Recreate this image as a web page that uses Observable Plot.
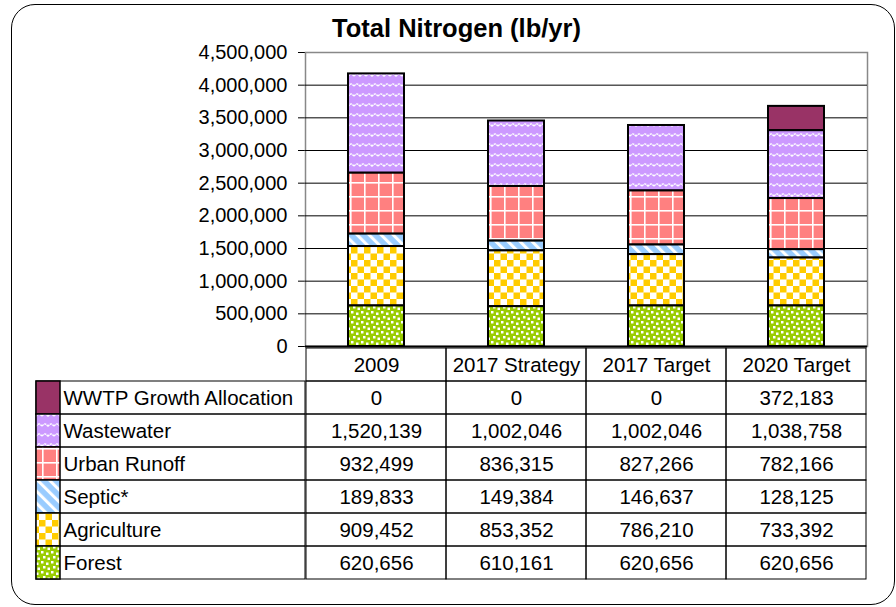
<!DOCTYPE html>
<html>
<head>
<meta charset="utf-8">
<script src="https://cdn.jsdelivr.net/npm/d3@7"></script>
<script src="https://cdn.jsdelivr.net/npm/@observablehq/plot@0.6"></script>
<style>
  html, body { margin: 0; padding: 0; background: #fff; }
  #wrap { position: relative; width: 896px; height: 607px; overflow: hidden; font-family: "Liberation Sans", Arial, sans-serif; }
  #box { position: absolute; left: 11px; top: 4px; width: 884px; height: 601px; box-sizing: border-box; border: 1.5px solid #000; border-radius: 24px; }
  #title { position: absolute; left: 0; width: 913px; top: 14px; line-height: 28px; text-align: center; font-weight: bold; font-size: 25.5px; color: #000; }
  .layer { position: absolute; left: 0; top: 0; }
</style>
</head>
<body>
<div id="wrap">
  <div id="box"></div>
  <svg id="defs" width="0" height="0" style="position:absolute">
    <defs>
      <pattern id="pat-forest" width="10" height="10" patternUnits="userSpaceOnUse">
        <rect width="10" height="10" fill="#99CC00"/>
        <rect x="1" y="1" width="2.5" height="2.5" fill="#fff"/>
        <rect x="6" y="2.5" width="2.5" height="2.5" fill="#fff"/>
        <rect x="3" y="6" width="2.5" height="2.5" fill="#fff"/>
        <rect x="7.5" y="7.5" width="2.5" height="2.5" fill="#fff"/>
      </pattern>
      <pattern id="pat-agriculture" width="13" height="13" patternUnits="userSpaceOnUse">
        <rect width="13" height="13" fill="#fff"/>
        <rect width="6.5" height="6.5" fill="#FFCC00"/>
        <rect x="6.5" y="6.5" width="6.5" height="6.5" fill="#FFCC00"/>
      </pattern>
      <pattern id="pat-septic" width="8.5" height="8.5" patternUnits="userSpaceOnUse" patternTransform="rotate(-45)">
        <rect width="8.5" height="8.5" fill="#99CCFF"/>
        <rect width="3" height="8.5" fill="#fff"/>
      </pattern>
      <pattern id="pat-urban" width="14" height="14" patternUnits="userSpaceOnUse">
        <rect width="14" height="14" fill="#FF8080"/>
        <rect x="0" y="0" width="1.6" height="14" fill="#fff"/>
        <rect x="0" y="0" width="14" height="1.6" fill="#fff"/>
      </pattern>
      <pattern id="pat-wastewater" width="12" height="10" patternUnits="userSpaceOnUse">
        <rect width="12" height="10" fill="#CC99FF"/>
        <path d="M0,6.5 Q3,1.5 6,6.5 Q9,1.5 12,6.5" fill="none" stroke="#fff" stroke-width="1.4" stroke-dasharray="2.2,0.6"/>
      </pattern>
    </defs>
  </svg>
  <div id="title">Total Nitrogen (lb/yr)</div>
</div>
<script>
const categories = ["2009", "2017 Strategy", "2017 Target", "2020 Target"];
const series = ["WWTP Growth Allocation", "Wastewater", "Urban Runoff", "Septic*", "Agriculture", "Forest"];
const wwtpGrowth = [0, 0, 0, 372183];
const wastewater = [1520139, 1002046, 1002046, 1038758];
const urbanRunoff = [932499, 836315, 827266, 782166];
const septic = [189833, 149384, 146637, 128125];
const agriculture = [909452, 853352, 786210, 733392];
const forest = [620656, 610161, 620656, 620656];
const yTicks = [0, 500000, 1000000, 1500000, 2000000, 2500000, 3000000, 3500000, 4000000, 4500000];
const seriesFills = ["#993366", "url(#pat-wastewater)", "url(#pat-urban)", "url(#pat-septic)", "url(#pat-agriculture)", "url(#pat-forest)"];

const seriesValues = [wwtpGrowth, wastewater, urbanRunoff, septic, agriculture, forest];
const rows = series.flatMap((s, i) => categories.map((c, j) => ({series: s, category: c, value: seriesValues[i][j]})));
const stackOrder = series.slice().reverse();
const headerKey = "header";
const fmt = d3.format(",");

const W = 896, H = 607;
const baseStyle = {fontFamily: "'Liberation Sans', Arial, sans-serif", background: "transparent", color: "#000"};

// Chart
const chart = Plot.plot({
  width: W, height: H,
  marginLeft: 305, marginRight: 29, marginTop: 52, marginBottom: H - 346,
  style: {...baseStyle, fontSize: "20px"},
  x: {domain: categories, paddingInner: 0.6, paddingOuter: 0.3, axis: null},
  y: {domain: [0, 4500000], ticks: yTicks, tickFormat: fmt, tickSize: 7, tickPadding: 11, label: null, line: true},
  color: {domain: series, range: seriesFills},
  marks: [
    Plot.frame({stroke: "#888", strokeWidth: 1.5}),
    Plot.ruleY(yTicks.filter(t => t > 0 && t < 4500000), {stroke: "#000", strokeWidth: 1}),
    Plot.barY(rows, {x: "category", y: "value", fill: "series", order: stackOrder, filter: d => d.value > 0, stroke: "#000", strokeWidth: 2}),
    Plot.ruleY([0], {stroke: "#000", strokeWidth: 2})
  ]
});
chart.classList.add("layer");
document.getElementById("wrap").appendChild(chart);

// Data table (header + values)
const table = Plot.plot({
  width: W, height: H,
  marginLeft: 305, marginRight: 29, marginTop: 346, marginBottom: H - 580,
  style: {...baseStyle, fontSize: "20.5px"},
  x: {domain: categories, padding: 0, axis: null},
  y: {domain: [headerKey, ...series], padding: 0, axis: null},
  marks: [
    Plot.cell(rows, {x: "category", y: "series", fill: "none", stroke: "#000", strokeWidth: 1}),
    Plot.cell(categories, {x: d => d, y: () => headerKey, fill: "none", stroke: "#000", strokeWidth: 1}),
    Plot.text(categories, {x: d => d, y: () => headerKey, text: d => d, fill: "#000"}),
    Plot.text(rows, {x: "category", y: "series", text: d => fmt(d.value), fill: "#000"})
  ]
});
table.classList.add("layer");
document.getElementById("wrap").appendChild(table);

// Legend column of the table
const legend = Plot.plot({
  width: W, height: H,
  marginLeft: 36, marginRight: W - 305, marginTop: 380, marginBottom: H - 580,
  style: {...baseStyle, fontSize: "20.5px"},
  y: {domain: series, padding: 0, axis: null},
  color: {domain: series, range: seriesFills},
  marks: [
    Plot.cell(series, {y: d => d, fill: "none", stroke: "#000", strokeWidth: 1}),
    Plot.cell(series, {y: d => d, fill: d => d, insetRight: 245, stroke: "#000", strokeWidth: 1.5}),
    Plot.text(series, {y: d => d, text: d => d, frameAnchor: "left", dx: 27, textAnchor: "start", fill: "#000"})
  ]
});
legend.classList.add("layer");
document.getElementById("wrap").appendChild(legend);
</script>
</body>
</html>
